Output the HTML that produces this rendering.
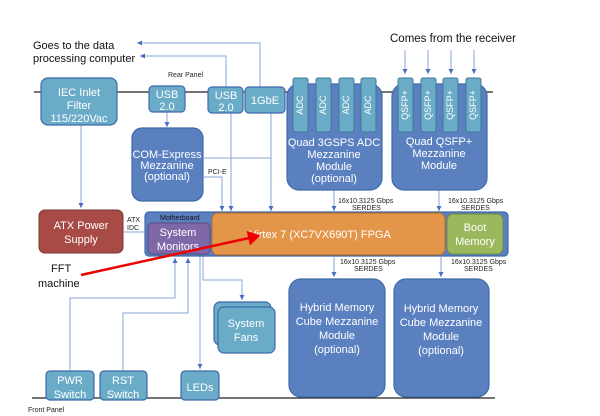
<!DOCTYPE html>
<html><head><style>
body{margin:0;background:#fff}
svg{display:block}
text{font-family:"Liberation Sans",sans-serif}
.w{fill:#fff;font-size:11px;text-anchor:middle}
.s{font-size:7px;fill:#222}
</style></head><body>
<svg width="600" height="416" viewBox="0 0 600 416">
<defs>
<marker id="a" markerWidth="6" markerHeight="6" refX="5" refY="3" orient="auto"><path d="M0,0.5 L5,3 L0,5.5z" fill="#4a6fc0"/></marker>
<marker id="r" markerWidth="6" markerHeight="6" refX="4" refY="3" orient="auto"><path d="M0,0 L5,3 L0,6z" fill="#e00"/></marker>
</defs>
<g stroke="#222" stroke-width="1.2"><line x1="34" y1="92" x2="493" y2="92"/><line x1="32" y1="398" x2="495" y2="398"/></g>
<text x="33" y="49" font-size="11" fill="#111">Goes to the data</text>
<text x="33" y="62" font-size="11" fill="#111">processing computer</text>
<text x="390" y="42" font-size="11.5" fill="#111">Comes from the receiver</text>
<text x="168" y="77" class="s">Rear Panel</text>
<text x="28" y="412" class="s">Front Panel</text>
<text x="51" y="272" font-size="11" fill="#111">FFT</text>
<text x="38" y="287" font-size="11" fill="#111">machine</text>
<g stroke="#8aa4d8" stroke-width="1" fill="none">
<polyline points="260,87 260,43 137,43" marker-end="url(#a)"/>
<polyline points="226,87 226,56 140,56" marker-end="url(#a)"/>
<line x1="405" y1="50" x2="405" y2="74" marker-end="url(#a)"/>
<line x1="428" y1="50" x2="428" y2="74" marker-end="url(#a)"/>
<line x1="451" y1="50" x2="451" y2="74" marker-end="url(#a)"/>
<line x1="474" y1="50" x2="474" y2="74" marker-end="url(#a)"/>
<line x1="81" y1="125" x2="81" y2="208" marker-end="url(#a)"/>
<line x1="167" y1="112" x2="167" y2="127" marker-end="url(#a)"/>
<line x1="231" y1="113" x2="231" y2="211" marker-end="url(#a)"/>
<line x1="271" y1="113" x2="271" y2="211" marker-end="url(#a)"/>
<line x1="204" y1="158" x2="271" y2="158"/>
<polyline points="204,177 222,177 222,211" marker-end="url(#a)"/>
<line x1="124" y1="232" x2="145" y2="232"/>
<line x1="334" y1="190" x2="334" y2="211" marker-end="url(#a)"/>
<line x1="439" y1="190" x2="439" y2="211" marker-end="url(#a)"/>
<line x1="334" y1="257" x2="334" y2="277" marker-end="url(#a)"/>
<line x1="441" y1="257" x2="441" y2="277" marker-end="url(#a)"/>
<polyline points="70,371 70,298 175,298 175,258" marker-end="url(#a)"/>
<polyline points="123,371 123,313 188,313 188,258" marker-end="url(#a)"/>
<line x1="200" y1="256" x2="200" y2="369" marker-end="url(#a)"/>
<polyline points="203,256 203,280 242,280 242,300" marker-end="url(#a)"/>
</g>
<text x="338" y="203" class="s">16x10.3125 Gbps</text><text x="352" y="210" class="s">SERDES</text>
<text x="448" y="203" class="s">16x10.3125 Gbps</text><text x="461" y="210" class="s">SERDES</text>
<text x="340" y="264" class="s">16x10.3125 Gbps</text><text x="354" y="271" class="s">SERDES</text>
<text x="451" y="264" class="s">16x10.3125 Gbps</text><text x="464" y="271" class="s">SERDES</text>
<text x="208" y="174" class="s">PCI-E</text>
<text x="127" y="222" class="s">ATX</text><text x="127" y="230" class="s">IDC</text>
<g stroke="#3f6aa8" stroke-width="1.2">
<rect x="41" y="78" width="76" height="47" rx="7" fill="#6aabc7"/>
<rect x="149" y="86" width="36" height="26" rx="4" fill="#6aabc7"/>
<rect x="208" y="87" width="35" height="26" rx="4" fill="#6aabc7"/>
<rect x="245" y="87" width="40" height="26" rx="4" fill="#6aabc7"/>
<rect x="132" y="128" width="71" height="73" rx="10" fill="#5b80c0"/>
<rect x="287" y="84" width="95" height="106" rx="12" fill="#5b80c0"/>
<rect x="392" y="84" width="95" height="106" rx="12" fill="#5b80c0"/>
<rect x="145" y="212" width="363" height="44" rx="4" fill="#5b80c0"/>
<rect x="289" y="279" width="96" height="118" rx="12" fill="#5b80c0"/>
<rect x="394" y="279" width="95" height="118" rx="12" fill="#5b80c0"/>
<rect x="214" y="302" width="57" height="43" rx="6" fill="#6aabc7"/>
<rect x="218" y="307" width="57" height="46" rx="6" fill="#6aabc7"/>
<rect x="46" y="371" width="48" height="29" rx="4" fill="#6aabc7"/>
<rect x="100" y="371" width="47" height="29" rx="4" fill="#6aabc7"/>
<rect x="181" y="371" width="38" height="29" rx="4" fill="#6aabc7"/>
</g>
<g stroke="#3f7a9a" fill="#6aabc7">
<rect x="293" y="78" width="15" height="54" rx="2"/><rect x="316" y="78" width="15" height="54" rx="2"/>
<rect x="339" y="78" width="15" height="54" rx="2"/><rect x="361" y="78" width="15" height="54" rx="2"/>
<rect x="398" y="78" width="15" height="54" rx="2"/><rect x="421" y="78" width="15" height="54" rx="2"/>
<rect x="443" y="78" width="15" height="54" rx="2"/><rect x="466" y="78" width="15" height="54" rx="2"/>
</g>
<rect x="39" y="210" width="84" height="43" rx="6" fill="#a84b46" stroke="#7a3430"/>
<rect x="212" y="213" width="233" height="42" rx="6" fill="#e3964a" stroke="#b36a2a"/>
<rect x="447" y="214" width="56" height="40" rx="6" fill="#9cb85c" stroke="#6f8a3a"/>
<rect x="148" y="223" width="62" height="31" rx="4" fill="#7e68a8" stroke="#5a4a80"/>
<text x="160" y="220" font-size="7" fill="#111">Motherboard</text>
<g class="w">
<text x="79" y="96" class="w">IEC Inlet</text><text x="79" y="109" class="w">Filter</text><text x="79" y="122" class="w" font-size="10.5">115/220Vac</text>
<text x="167" y="98" class="w">USB</text><text x="167" y="110" class="w">2.0</text>
<text x="226" y="99" class="w">USB</text><text x="226" y="111" class="w">2.0</text>
<text x="265" y="104" class="w">1GbE</text>
<text x="167" y="158" class="w" font-size="7.5">COM-Express</text><text x="167" y="169" class="w" font-size="7.5">Mezzanine</text><text x="167" y="180" class="w" font-size="7.5">(optional)</text>
<text x="334" y="146" class="w" font-size="8.5">Quad 3GSPS ADC</text><text x="334" y="158" class="w" font-size="8.5">Mezzanine</text><text x="334" y="170" class="w" font-size="8.5">Module</text><text x="334" y="182" class="w" font-size="8.5">(optional)</text>
<text x="439" y="145" class="w" font-size="8.5">Quad QSFP+</text><text x="439" y="157" class="w" font-size="8.5">Mezzanine</text><text x="439" y="169" class="w" font-size="8.5">Module</text>
<text x="81" y="229" class="w">ATX Power</text><text x="81" y="243" class="w">Supply</text>
<text x="178" y="236" class="w">System</text><text x="178" y="250" class="w">Monitors</text>
<text x="320" y="238" class="w" font-size="10.5">Virtex 7 (XC7VX690T) FPGA</text>
<text x="475" y="231" class="w">Boot</text><text x="475" y="245" class="w">Memory</text>
<text x="337" y="311" class="w" font-size="8">Hybrid Memory</text><text x="337" y="325" class="w" font-size="8">Cube Mezzanine</text><text x="337" y="339" class="w" font-size="8">Module</text><text x="337" y="353" class="w" font-size="8">(optional)</text>
<text x="441" y="312" class="w" font-size="8">Hybrid Memory</text><text x="441" y="326" class="w" font-size="8">Cube Mezzanine</text><text x="441" y="340" class="w" font-size="8">Module</text><text x="441" y="354" class="w" font-size="8">(optional)</text>
<text x="246" y="327" class="w">System</text><text x="246" y="341" class="w">Fans</text>
<text x="70" y="384" class="w">PWR</text><text x="70" y="398" class="w">Switch</text>
<text x="123" y="384" class="w">RST</text><text x="123" y="398" class="w">Switch</text>
<text x="200" y="391" class="w">LEDs</text>
</g>
<g fill="#fff" font-size="9" text-anchor="middle">
<text transform="translate(303,105) rotate(-90)">ADC</text><text transform="translate(326,105) rotate(-90)">ADC</text>
<text transform="translate(349,105) rotate(-90)">ADC</text><text transform="translate(371,105) rotate(-90)">ADC</text>
<text transform="translate(408,105) rotate(-90)">QSFP+</text><text transform="translate(431,105) rotate(-90)">QSFP+</text>
<text transform="translate(453,105) rotate(-90)">QSFP+</text><text transform="translate(476,105) rotate(-90)">QSFP+</text>
</g>
<line x1="81" y1="275" x2="258" y2="236" stroke="#e00" stroke-width="2.5" marker-end="url(#r)"/>
</svg>
</body></html>
